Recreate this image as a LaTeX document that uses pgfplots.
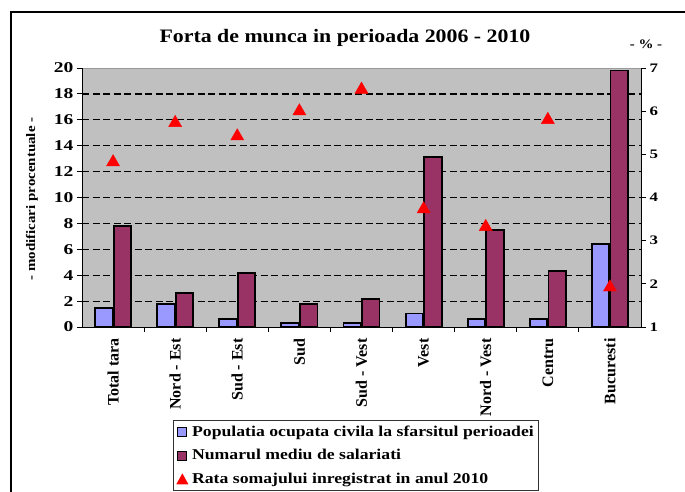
\documentclass[border=0pt]{standalone}
\usepackage{pgfplots}
\pgfplotsset{compat=1.18}
\usepackage{fontspec}
\setmainfont{Liberation Serif}
\newfontfamily\wfont[FakeStretch=1.15]{Liberation Serif}
\newfontfamily\lfont[FakeStretch=1.18]{Liberation Serif}
\newfontfamily\wwfont[FakeStretch=1.3]{Liberation Serif}
\definecolor{bgray}{HTML}{C0C0C0}
\definecolor{pblue}{HTML}{9999FF}
\definecolor{ppurp}{HTML}{993366}
\begin{document}
\begin{tikzpicture}
\useasboundingbox (0,0) rectangle (685pt,491pt);
\clip (0,0) rectangle (685pt,491pt);
\fill[white] (0,0) rectangle (685pt,491pt);
\draw[line width=2pt] (11pt,-10pt) -- (11pt,479pt) -- (700pt,479pt);
\node[font=\wfont\bfseries\fontsize{19}{19}\selectfont] at (345pt,453pt) {Forta de munca in perioada 2006 - 2010};
\node[font=\wfont\bfseries\fontsize{13}{13}\selectfont] at (646pt,447pt) {- \% -};
\node[rotate=90,font=\wfont\bfseries\fontsize{13}{13}\selectfont] at (32pt,292pt) {- modificari procentuale -};
\begin{axis}[
  at={(82pt,164pt)}, anchor=south west, scale only axis,
  width=559pt, height=259pt,
  xmin=-0.5, xmax=8.5, ymin=0, ymax=20,
  axis background/.style={fill=bgray, draw=gray!80},
  axis x line*=bottom, axis y line*=left,
  axis line style={line width=1pt, black},
  tick align=outside, major tick length=5pt,
  tick style={black, line width=1pt},
  ytick={0,2,...,20},
  /pgf/number format/assume math mode=true,
  yticklabel style={font=\wwfont\bfseries\fontsize{15}{15}\selectfont},
  xtick={0.5,1.5,...,7.5}, xticklabels={},
  extra x ticks={0,1,2,3,4,5,6,7,8},
  extra x tick labels={Total tara,Nord - Est,Sud - Est,Sud,Sud - Vest,Vest,Nord - Vest,Centru,Bucuresti},
  extra x tick style={major tick length=0pt, xticklabel style={rotate=90, anchor=east, xshift=-8pt, font=\bfseries\fontsize{16}{16}\selectfont}},
  extra y ticks={2,4,...,18}, extra y tick labels={},
  extra y tick style={grid=major, major tick length=0pt},
  grid style={black, line width=1.2pt, dash pattern=on 7pt off 3.5pt},
  ybar, bar width=0.28,
  legend style={at={(0.163,-0.359)}, anchor=north west, draw=black!80, line width=1pt,
    font=\lfont\bfseries\fontsize{15}{15}\selectfont, row sep=8pt, column sep=2pt, inner sep=3pt},
  legend cell align=left,
]
\addplot[fill=pblue, draw=black, line width=1.8pt, bar shift=-0.15,
  legend image code/.code={\draw[fill=pblue,draw=black,line width=1pt] (0pt,-4.5pt) rectangle (9pt,4.5pt);}]
  coordinates {(0,1.45) (1,1.8) (2,0.6) (3,0.3) (4,0.3) (5,1.05) (6,0.6) (7,0.6) (8,6.4)};
\addlegendentry{Populatia ocupata civila la sfarsitul perioadei}
\addplot[fill=ppurp, draw=black, line width=1.8pt, bar shift=0.15,
  legend image code/.code={\draw[fill=ppurp,draw=black,line width=1pt] (0pt,-4.5pt) rectangle (9pt,4.5pt);}]
  coordinates {(0,7.8) (1,2.65) (2,4.15) (3,1.75) (4,2.15) (5,13.15) (6,7.5) (7,4.3) (8,19.8)};
\addlegendentry{Numarul mediu de salariati}
\addlegendimage{legend image code/.code={\fill[red] (-0.5pt,-4.5pt) -- (10pt,-4.5pt) -- (4.75pt,5pt) -- cycle;}}
\addlegendentry{Rata somajului inregistrat in anul 2010}
\end{axis}
\begin{axis}[
  at={(82pt,164pt)}, anchor=south west, scale only axis,
  width=559pt, height=259pt,
  xmin=-0.5, xmax=8.5, ymin=1, ymax=7,
  axis x line=none, axis y line*=right,
  axis line style={line width=1pt, black},
  tick align=outside, major tick length=5pt,
  tick style={black, line width=1pt},
  ytick={1,2,...,7},
  /pgf/number format/assume math mode=true,
  yticklabel style={font=\wwfont\bfseries\fontsize{13}{13}\selectfont},
  clip=false,
]
\addplot[only marks, mark=triangle*, mark size=7.5pt, color=red]
  coordinates {(0,4.82) (1,5.73) (2,5.42) (3,6.0) (4,6.5) (5,3.73) (6,3.32) (7,5.8) (8,1.92)};
\end{axis}
\end{tikzpicture}
\end{document}
